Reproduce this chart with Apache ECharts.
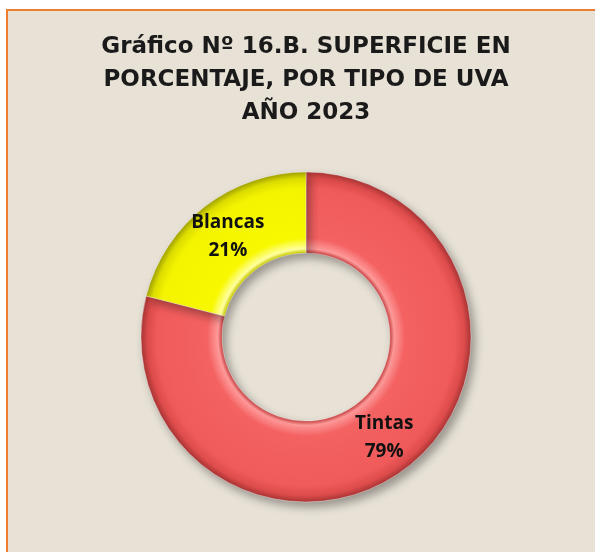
<!DOCTYPE html>
<html>
<head>
<meta charset="utf-8">
<script src="https://cdn.jsdelivr.net/npm/echarts@6/dist/echarts.min.js"></script>
<style>
  html, body { margin: 0; padding: 0; background: #fff; }
  #frame { position: absolute; left: 6px; top: 9px; width: 600px; height: 560px;
    border-left: 2px solid #ed7d31; border-top: 2px solid #ed7d31; background: #e7e1d6; }
  #chart { position: absolute; left: 0; top: 0; width: 595px; height: 552px; }
</style>
</head>
<body>
<div id="frame"></div>
<div id="chart"></div>
<script>
/* Gráfico 16.B - superficie por tipo de uva, 2023 */
const titleLines = ['Gráfico Nº 16.B. SUPERFICIE EN', 'PORCENTAJE, POR TIPO DE UVA', 'AÑO 2023'];
const categories = ['Tintas', 'Blancas'];
const values = [79, 21];

const CX = 306, CY = 337, R_OUT = 165, R_IN = 84;

// fake Excel bevel with a global radial gradient per slice
const bevel = (stops) => ({
  type: 'radial', global: true, x: CX, y: CY, r: R_OUT,
  colorStops: stops.map(([o, c]) => ({ offset: o, color: c })),
});
const colors = [
  bevel([[0, '#c84444'], [0.51, '#c84444'], [0.535, '#ff9a9a'], [0.6, '#f46262'],
    [0.9, '#f05a5a'], [0.96, '#de4c4c'], [1, '#a83434']]),
  bevel([[0, '#c8c800'], [0.51, '#c8c800'], [0.535, '#ffffa0'], [0.6, '#f8f800'],
    [0.9, '#f4f400'], [0.96, '#dede00'], [1, '#a0a000']]),
];

const chart = echarts.init(document.getElementById('chart'));
chart.setOption({
  backgroundColor: 'transparent',
  animation: false,
  title: {
    text: titleLines.join('\n'),
    left: CX, top: 31, textAlign: 'center', padding: 0,
    textStyle: { fontFamily: 'DejaVu Sans', fontWeight: 'bold', fontSize: 23,
      lineHeight: 33, color: '#1a1a1a' },
  },
  series: [{
    type: 'pie',
    center: [CX, CY],
    radius: [R_IN, R_OUT],
    startAngle: 90,
    clockwise: true,
    data: categories.map((n, i) => ({ name: n, value: values[i], itemStyle: { color: colors[i] } })),
    itemStyle: { borderColor: 'rgba(255,255,255,0.35)', borderWidth: 1,
      shadowColor: 'rgba(0,0,0,0.35)', shadowBlur: 10, shadowOffsetX: 4, shadowOffsetY: 5 },
    label: {
      position: 'inside',
      formatter: (p) => p.name + '\n' + p.value + '%',
      fontFamily: 'Open Sans', fontWeight: 'bold', fontSize: 19, lineHeight: 28, color: '#111',
    },
    labelLine: { show: false },
    emphasis: { disabled: true },
  }],
});
</script>
</body>
</html>
